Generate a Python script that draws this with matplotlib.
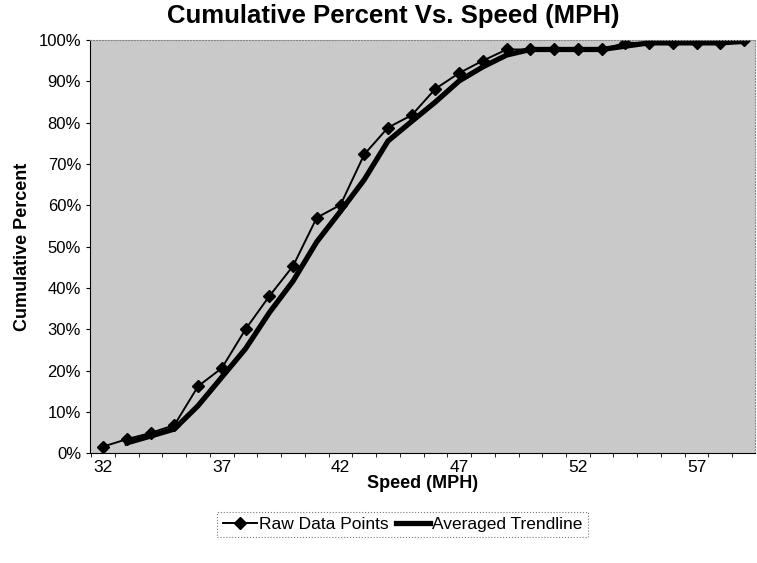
import numpy as np
import matplotlib.pyplot as plt
from matplotlib.ticker import PercentFormatter

plt.rcParams['font.family'] = ['Liberation Sans', 'DejaVu Sans']

speed = list(range(32, 60))
raw_pct = [1.6, 3.4, 4.9, 6.8, 16.2, 20.6, 30.0, 38.0, 45.3, 57.0,
           60.1, 72.3, 78.8, 81.8, 88.2, 92.0, 95.0, 97.7, 97.7, 97.7,
           97.7, 97.7, 99.3, 99.3, 99.3, 99.3, 99.3, 100.0]

trend_speed = list(range(33, 60))
trend_pct = [2.5, 4.15, 5.85, 11.5, 18.4, 25.3, 34.0, 41.65, 51.15, 58.55,
             66.2, 75.55, 80.3, 85.0, 90.1, 93.5, 96.35, 97.7, 97.7, 97.7,
             97.7, 98.5, 99.3, 99.3, 99.3, 99.3, 99.65]

x_labels = [32, 37, 42, 47, 52, 57]

fig = plt.figure(figsize=(7.57, 5.63), dpi=100)
ax = fig.add_axes([0.119, 0.195, 0.878, 0.734])
ax.set_facecolor('#c9c9c9')

ax.plot(speed, raw_pct, color='black', lw=1.4, marker='D', markersize=6.5,
        label='Raw Data Points')
ax.plot(trend_speed, trend_pct, color='black', lw=3.8,
        label='Averaged Trendline')

ax.set_xlim(31.45, 59.45)
ax.set_ylim(0, 100)
ax.set_xticks(x_labels)
ax.set_xticks(np.arange(31.5, 59.5, 1), minor=True)
ax.tick_params(axis='x', which='major', length=0, labelsize=12.5, pad=5)
ax.tick_params(axis='x', which='minor', length=3, direction='out')
ax.set_yticks(range(0, 101, 10))
ax.yaxis.set_major_formatter(PercentFormatter(decimals=0))
ax.tick_params(axis='y', length=3, labelsize=12)

for s in ['top', 'right']:
    ax.spines[s].set_color('#888888')
    ax.spines[s].set_linestyle(':')
    ax.spines[s].set_linewidth(0.8)

fig.suptitle('Cumulative Percent Vs. Speed (MPH)', x=0.519, y=0.993,
             fontsize=18.5, fontweight='bold', va='top')
ax.set_xlabel('Speed (MPH)', fontsize=13, fontweight='bold', labelpad=0)
ax.set_ylabel('Cumulative Percent', fontsize=13, fontweight='bold', labelpad=5)

leg = ax.legend(loc='center', bbox_to_anchor=(0.47, -0.172), ncol=2,
                frameon=True, fancybox=False, fontsize=12.5, handlelength=2.0,
                columnspacing=0.4, handletextpad=0.1, borderpad=0.3)
leg.get_frame().set_edgecolor('#555555')
leg.get_frame().set_linestyle(':')
leg.get_frame().set_linewidth(0.8)

fig.savefig('out.png', dpi=100)
